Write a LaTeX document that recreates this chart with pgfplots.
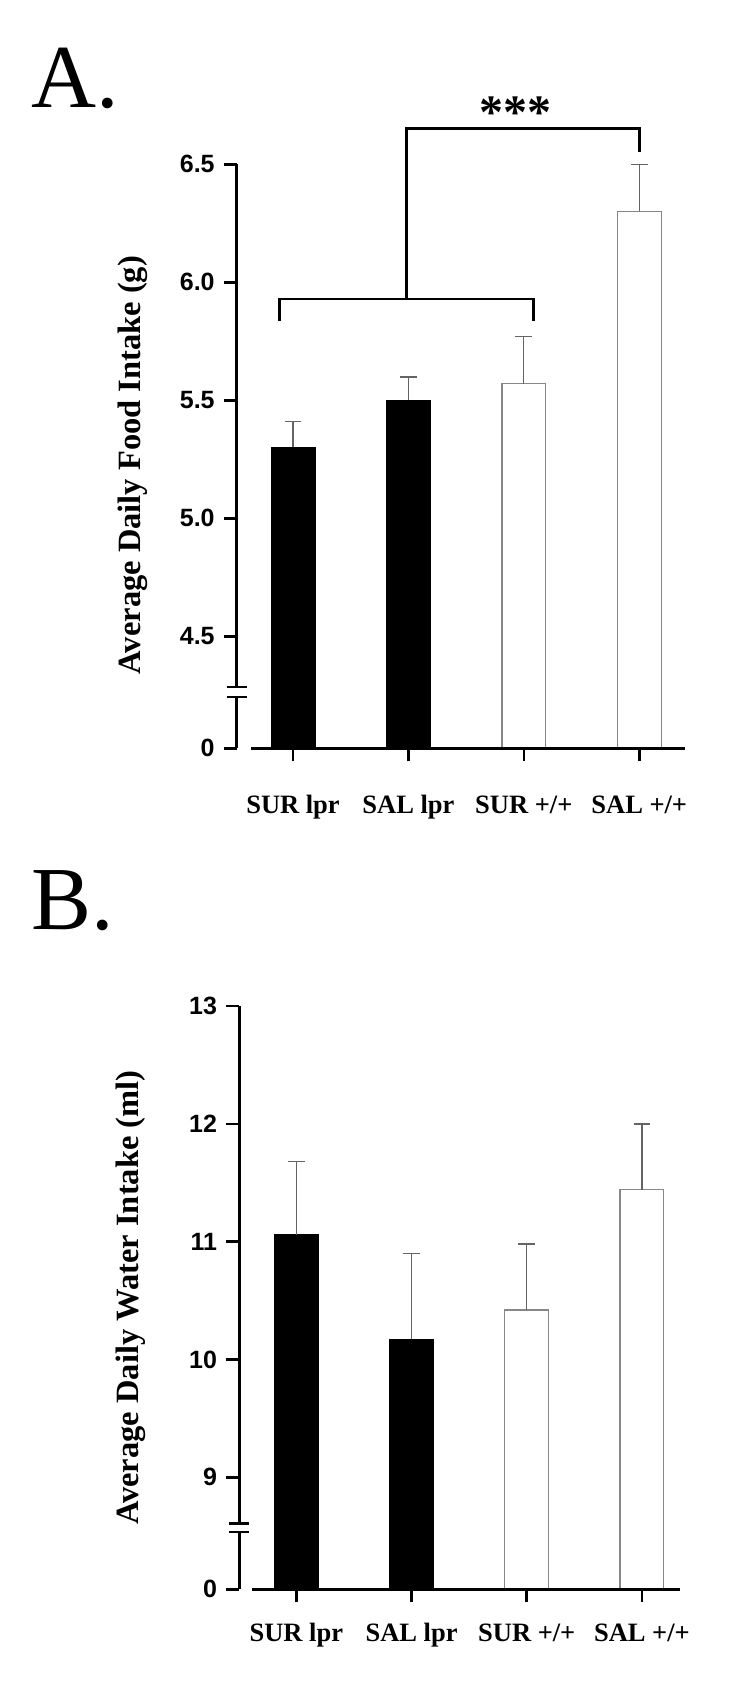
\documentclass[border=0pt]{standalone}
\usepackage{fontspec}
\setmainfont{Liberation Serif}
\newfontfamily\arialf{Liberation Sans}
\usepackage{pgfplots}
\pgfplotsset{compat=1.18}
\definecolor{outl}{RGB}{135,135,135}
\definecolor{errc}{RGB}{100,100,100}
\pgfplotsset{
  panel/.style={
    scale only axis, anchor=south west,
    axis line style={draw=none},
    axis x line*=bottom, axis y line*=left,
    tick align=outside, major tick length=6.5pt,
    every tick/.style={black, line width=1.3pt},
    xtick={0,1,2,3}, xticklabels={SUR lpr, SAL lpr, SUR +/+, SAL +/+},
    xticklabel style={font=\bfseries\fontsize{13.25}{15}\selectfont, anchor=base},
    yticklabel style={font=\arialf\bfseries\fontsize{12.5}{14}\selectfont, xshift=-1pt},
    /pgf/number format/assume math mode=true,
    ybar, bar width=0.38, bar shift=0pt,
    clip mode=individual,
    ylabel style={font=\bfseries\fontsize{16.25}{18}\selectfont, anchor=center},
    error bars/y dir=plus, error bars/y explicit,
    error bars/error mark=-,
    error bars/error bar style={errc, line width=0.6pt},
    error bars/error mark options={errc, rotate=90, mark size=4.2pt, line width=0.9pt},
  },
  blackbar/.style={fill=black, draw=black},
  whitebar/.style={fill=white, draw=outl, line width=0.6pt},
}
\begin{document}
\begin{tikzpicture}
\path[use as bounding box] (0,0) rectangle (375pt,847.5pt);
\node[anchor=base west, inner sep=0, font=\fontsize{45}{50}\selectfont] at (15.5pt,793.5pt) {A.};
\node[anchor=base west, inner sep=0, font=\fontsize{45}{50}\selectfont] at (15.5pt,382.5pt) {B.};
% Panel A
\begin{axis}[panel, at={(118.35pt,473.35pt)}, width=223.95pt, height=292pt,
  xmin=-0.488, xmax=3.393, ymin=4.025, ymax=6.5,
  ytick={4.025,4.5,5,5.5,6,6.5}, yticklabels={0,4.5,5.0,5.5,6.0,6.5},
  xticklabel style={yshift=-26pt},
  ylabel={Average Daily Food Intake (g)},
  ylabel style={at={(axis description cs:-0.232,0.485)}}]
\addplot[blackbar] coordinates {(0,5.30) +- (0,0.11) (1,5.50) +- (0,0.10)};
\addplot[whitebar] coordinates {(2,5.57) +- (0,0.20) (3,6.30) +- (0,0.20)};
\draw[line width=1.5pt] (axis cs:-0.488,6.5) -- (axis cs:-0.488,4.285);
\draw[line width=1.5pt] (axis cs:-0.488,4.243) -- (axis cs:-0.488,4.025);
\draw[line width=1.3pt] ([xshift=-5pt]axis cs:-0.488,4.285) -- ([xshift=5pt]axis cs:-0.488,4.285);
\draw[line width=1.3pt] ([xshift=-5pt]axis cs:-0.488,4.243) -- ([xshift=5pt]axis cs:-0.488,4.243);
\draw[line width=1.5pt] (axis cs:-0.366,4.025) -- (axis cs:3.393,4.025);
\draw[line width=1.4pt] (axis cs:-0.119,5.836) -- (axis cs:-0.119,5.929) -- (axis cs:2.086,5.929) -- (axis cs:2.086,5.836);
\draw[line width=1.4pt] (axis cs:0.985,5.929) -- (axis cs:0.985,6.653) -- (axis cs:3.0,6.653) -- (axis cs:3.0,6.553);
\node[anchor=base, inner sep=0, font=\bfseries\fontsize{24}{26}\selectfont] at (axis cs:1.93,6.65) {***};
\end{axis}
% Panel B
\begin{axis}[panel, at={(119.5pt,52.85pt)}, width=220.25pt, height=291.65pt,
  xmin=-0.498, xmax=3.326, ymin=8.05, ymax=13,
  ytick={8.05,9,10,11,12,13}, yticklabels={0,9,10,11,12,13},
  xticklabel style={yshift=-19.5pt},
  ylabel={Average Daily Water Intake (ml)},
  ylabel style={at={(axis description cs:-0.245,0.50)}}]
\addplot[blackbar] coordinates {(0,11.06) +- (0,0.62) (1,10.17) +- (0,0.73)};
\addplot[whitebar] coordinates {(2,10.42) +- (0,0.56) (3,11.44) +- (0,0.56)};
\draw[line width=1.5pt] (axis cs:-0.498,13) -- (axis cs:-0.498,8.609);
\draw[line width=1.5pt] (axis cs:-0.498,8.537) -- (axis cs:-0.498,8.05);
\draw[line width=1.3pt] ([xshift=-5pt]axis cs:-0.498,8.609) -- ([xshift=5pt]axis cs:-0.498,8.609);
\draw[line width=1.3pt] ([xshift=-5pt]axis cs:-0.498,8.537) -- ([xshift=5pt]axis cs:-0.498,8.537);
\draw[line width=1.5pt] (axis cs:-0.385,8.05) -- (axis cs:3.326,8.05);
\end{axis}
\end{tikzpicture}
\end{document}
